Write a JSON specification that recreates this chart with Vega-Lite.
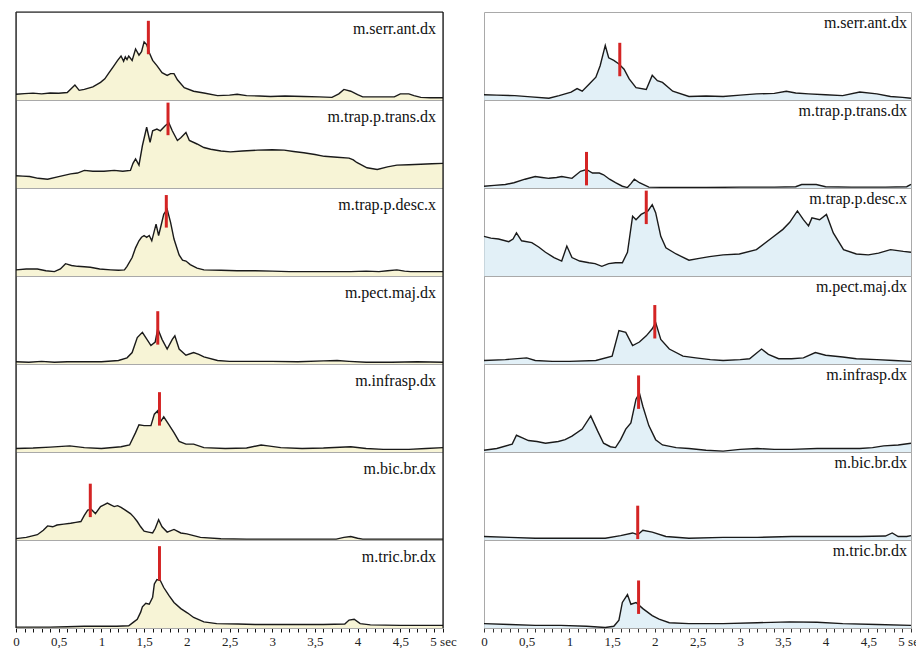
{
  "$schema": "https://vega.github.io/schema/vega-lite/v6.json",
  "background": "white",
  "padding": {"left": 12, "top": 10, "right": 0, "bottom": 24},
  "spacing": 23,
  "config": {
    "view": {"stroke": "#a9a9a9", "strokeWidth": 1},
    "font": "Liberation Serif"
  },
  "hconcat": [
    {
      "data": {"values": [
        {"p":1,"k":"mk","t":1.55,"lo":52,"hi":90},
        {"p":2,"k":"mk","t":1.78,"lo":60,"hi":97},
        {"p":3,"k":"mk","t":1.76,"lo":55,"hi":92},
        {"p":4,"k":"mk","t":1.66,"lo":22,"hi":60},
        {"p":5,"k":"mk","t":1.68,"lo":30,"hi":68},
        {"p":6,"k":"mk","t":0.87,"lo":26,"hi":64},
        {"p":7,"k":"mk","t":1.68,"lo":54,"hi":93},
        {"p":1,"k":"lb","t":5,"m":"m.serr.ant.dx"},
        {"p":2,"k":"lb","t":5,"m":"m.trap.p.trans.dx"},
        {"p":3,"k":"lb","t":5,"m":"m.trap.p.desc.x"},
        {"p":4,"k":"lb","t":5,"m":"m.pect.maj.dx"},
        {"p":5,"k":"lb","t":5,"m":"m.infrasp.dx"},
        {"p":6,"k":"lb","t":5,"m":"m.bic.br.dx"},
        {"p":7,"k":"lb","t":5,"m":"m.tric.br.dx"},
        {"p":1,"k":"ed","t":0},{"p":1,"k":"ed","t":5},{"p":2,"k":"ed","t":0},{"p":2,"k":"ed","t":5},{"p":3,"k":"ed","t":0},{"p":3,"k":"ed","t":5},{"p":4,"k":"ed","t":0},{"p":4,"k":"ed","t":5},{"p":5,"k":"ed","t":0},{"p":5,"k":"ed","t":5},{"p":6,"k":"ed","t":0},{"p":6,"k":"ed","t":5},{"p":7,"k":"ed","t":0},{"p":7,"k":"ed","t":5},
        {"p":1,"k":"tp","t":0,"t2":5},
        {"p":1,"t":0,"v":6.5},{"p":1,"t":0.1,"v":7.2},{"p":1,"t":0.2,"v":7.8},{"p":1,"t":0.3,"v":7},{"p":1,"t":0.4,"v":8},{"p":1,"t":0.5,"v":7.6},{"p":1,"t":0.6,"v":8.5},{"p":1,"t":0.69,"v":17},{"p":1,"t":0.74,"v":11},{"p":1,"t":0.8,"v":12},{"p":1,"t":0.9,"v":15},{"p":1,"t":0.99,"v":20},{"p":1,"t":1.04,"v":24},{"p":1,"t":1.09,"v":31},{"p":1,"t":1.14,"v":38},{"p":1,"t":1.19,"v":45},{"p":1,"t":1.23,"v":50},{"p":1,"t":1.26,"v":44},{"p":1,"t":1.28,"v":49},{"p":1,"t":1.3,"v":46},{"p":1,"t":1.32,"v":50},{"p":1,"t":1.36,"v":45},{"p":1,"t":1.4,"v":58},{"p":1,"t":1.44,"v":51},{"p":1,"t":1.47,"v":55},{"p":1,"t":1.5,"v":66},{"p":1,"t":1.53,"v":63},{"p":1,"t":1.56,"v":54},{"p":1,"t":1.6,"v":45},{"p":1,"t":1.65,"v":39},{"p":1,"t":1.71,"v":31},{"p":1,"t":1.77,"v":28},{"p":1,"t":1.81,"v":30},{"p":1,"t":1.85,"v":30},{"p":1,"t":1.89,"v":23},{"p":1,"t":1.97,"v":14},{"p":1,"t":2.08,"v":10},{"p":1,"t":2.2,"v":8},{"p":1,"t":2.36,"v":5},{"p":1,"t":2.5,"v":5.5},{"p":1,"t":2.59,"v":6.5},{"p":1,"t":2.7,"v":5},{"p":1,"t":2.85,"v":4.5},{"p":1,"t":2.98,"v":4},{"p":1,"t":3.15,"v":4.5},{"p":1,"t":3.37,"v":4},{"p":1,"t":3.55,"v":3.5},{"p":1,"t":3.7,"v":3},{"p":1,"t":3.78,"v":7},{"p":1,"t":3.84,"v":12},{"p":1,"t":3.92,"v":10},{"p":1,"t":4,"v":6},{"p":1,"t":4.06,"v":3.5},{"p":1,"t":4.25,"v":3.5},{"p":1,"t":4.43,"v":3.5},{"p":1,"t":4.5,"v":7},{"p":1,"t":4.6,"v":7},{"p":1,"t":4.66,"v":5},{"p":1,"t":4.74,"v":3},{"p":1,"t":4.85,"v":2.5},{"p":1,"t":5,"v":2.5},
        {"p":2,"t":0,"v":14},{"p":2,"t":0.08,"v":13.5},{"p":2,"t":0.16,"v":13},{"p":2,"t":0.26,"v":11},{"p":2,"t":0.37,"v":10},{"p":2,"t":0.5,"v":13},{"p":2,"t":0.64,"v":16},{"p":2,"t":0.72,"v":17},{"p":2,"t":0.8,"v":20},{"p":2,"t":0.9,"v":19},{"p":2,"t":1.03,"v":19},{"p":2,"t":1.15,"v":20},{"p":2,"t":1.25,"v":19},{"p":2,"t":1.34,"v":20},{"p":2,"t":1.37,"v":28},{"p":2,"t":1.4,"v":33},{"p":2,"t":1.44,"v":26},{"p":2,"t":1.48,"v":48},{"p":2,"t":1.53,"v":69},{"p":2,"t":1.57,"v":52},{"p":2,"t":1.6,"v":65},{"p":2,"t":1.65,"v":67},{"p":2,"t":1.69,"v":65},{"p":2,"t":1.75,"v":71},{"p":2,"t":1.79,"v":74},{"p":2,"t":1.83,"v":65},{"p":2,"t":1.89,"v":54},{"p":2,"t":1.93,"v":57},{"p":2,"t":1.99,"v":63},{"p":2,"t":2.03,"v":54},{"p":2,"t":2.12,"v":50},{"p":2,"t":2.2,"v":46},{"p":2,"t":2.28,"v":44},{"p":2,"t":2.4,"v":42},{"p":2,"t":2.51,"v":41},{"p":2,"t":2.65,"v":42},{"p":2,"t":2.83,"v":43},{"p":2,"t":3,"v":43.5},{"p":2,"t":3.14,"v":43},{"p":2,"t":3.25,"v":41.5},{"p":2,"t":3.37,"v":40},{"p":2,"t":3.5,"v":38},{"p":2,"t":3.61,"v":36},{"p":2,"t":3.76,"v":35},{"p":2,"t":3.9,"v":34},{"p":2,"t":3.95,"v":32},{"p":2,"t":3.99,"v":29},{"p":2,"t":4.05,"v":26},{"p":2,"t":4.11,"v":23},{"p":2,"t":4.23,"v":21},{"p":2,"t":4.35,"v":24},{"p":2,"t":4.46,"v":26},{"p":2,"t":4.6,"v":26.5},{"p":2,"t":4.74,"v":27},{"p":2,"t":4.87,"v":27.5},{"p":2,"t":5,"v":28},
        {"p":3,"t":0,"v":7},{"p":3,"t":0.12,"v":8},{"p":3,"t":0.25,"v":8},{"p":3,"t":0.35,"v":6},{"p":3,"t":0.45,"v":5},{"p":3,"t":0.52,"v":8},{"p":3,"t":0.58,"v":14},{"p":3,"t":0.65,"v":12},{"p":3,"t":0.72,"v":11},{"p":3,"t":0.8,"v":10.5},{"p":3,"t":0.87,"v":10},{"p":3,"t":0.98,"v":8},{"p":3,"t":1.11,"v":7},{"p":3,"t":1.2,"v":6.5},{"p":3,"t":1.27,"v":7},{"p":3,"t":1.3,"v":11},{"p":3,"t":1.36,"v":21},{"p":3,"t":1.4,"v":32},{"p":3,"t":1.44,"v":40},{"p":3,"t":1.47,"v":44},{"p":3,"t":1.5,"v":46},{"p":3,"t":1.53,"v":44},{"p":3,"t":1.56,"v":46},{"p":3,"t":1.59,"v":40},{"p":3,"t":1.64,"v":59},{"p":3,"t":1.67,"v":46},{"p":3,"t":1.7,"v":58},{"p":3,"t":1.73,"v":70},{"p":3,"t":1.77,"v":76},{"p":3,"t":1.81,"v":61},{"p":3,"t":1.85,"v":42},{"p":3,"t":1.91,"v":24},{"p":3,"t":1.95,"v":18},{"p":3,"t":1.99,"v":17},{"p":3,"t":2.04,"v":13},{"p":3,"t":2.12,"v":9},{"p":3,"t":2.2,"v":7},{"p":3,"t":2.4,"v":6.5},{"p":3,"t":2.59,"v":6},{"p":3,"t":2.8,"v":6},{"p":3,"t":3,"v":5.5},{"p":3,"t":3.2,"v":5},{"p":3,"t":3.37,"v":5},{"p":3,"t":3.6,"v":5},{"p":3,"t":3.92,"v":5},{"p":3,"t":4.1,"v":5.5},{"p":3,"t":4.25,"v":5},{"p":3,"t":4.35,"v":6},{"p":3,"t":4.46,"v":7},{"p":3,"t":4.55,"v":5.5},{"p":3,"t":4.62,"v":5},{"p":3,"t":4.8,"v":5},{"p":3,"t":5,"v":5},
        {"p":4,"t":0,"v":2.5},{"p":4,"t":0.15,"v":2},{"p":4,"t":0.3,"v":3},{"p":4,"t":0.45,"v":2},{"p":4,"t":0.6,"v":2.5},{"p":4,"t":0.8,"v":2.5},{"p":4,"t":1,"v":2.5},{"p":4,"t":1.2,"v":4},{"p":4,"t":1.3,"v":7},{"p":4,"t":1.36,"v":13},{"p":4,"t":1.42,"v":30},{"p":4,"t":1.48,"v":36},{"p":4,"t":1.52,"v":30},{"p":4,"t":1.58,"v":21},{"p":4,"t":1.63,"v":25},{"p":4,"t":1.66,"v":40},{"p":4,"t":1.71,"v":28},{"p":4,"t":1.77,"v":17},{"p":4,"t":1.83,"v":28},{"p":4,"t":1.86,"v":32},{"p":4,"t":1.91,"v":17},{"p":4,"t":1.99,"v":10},{"p":4,"t":2.08,"v":13},{"p":4,"t":2.14,"v":11},{"p":4,"t":2.2,"v":8},{"p":4,"t":2.36,"v":4},{"p":4,"t":2.5,"v":3},{"p":4,"t":2.7,"v":3},{"p":4,"t":3,"v":3},{"p":4,"t":3.3,"v":2.5},{"p":4,"t":3.6,"v":3.5},{"p":4,"t":3.76,"v":4},{"p":4,"t":3.9,"v":3},{"p":4,"t":4.1,"v":2},{"p":4,"t":4.4,"v":2},{"p":4,"t":4.7,"v":2.5},{"p":4,"t":5,"v":2},
        {"p":5,"t":0,"v":4},{"p":5,"t":0.2,"v":4.5},{"p":5,"t":0.4,"v":5.5},{"p":5,"t":0.63,"v":7},{"p":5,"t":0.8,"v":5},{"p":5,"t":1,"v":4},{"p":5,"t":1.23,"v":6},{"p":5,"t":1.33,"v":8},{"p":5,"t":1.4,"v":22},{"p":5,"t":1.44,"v":31},{"p":5,"t":1.5,"v":30},{"p":5,"t":1.58,"v":30},{"p":5,"t":1.62,"v":43},{"p":5,"t":1.66,"v":47},{"p":5,"t":1.69,"v":34},{"p":5,"t":1.73,"v":40},{"p":5,"t":1.79,"v":31},{"p":5,"t":1.85,"v":22},{"p":5,"t":1.91,"v":12},{"p":5,"t":1.99,"v":9},{"p":5,"t":2.08,"v":9},{"p":5,"t":2.2,"v":5},{"p":5,"t":2.45,"v":4},{"p":5,"t":2.7,"v":4.5},{"p":5,"t":2.87,"v":8},{"p":5,"t":2.95,"v":7},{"p":5,"t":3.1,"v":5},{"p":5,"t":3.35,"v":4},{"p":5,"t":3.6,"v":4.5},{"p":5,"t":3.92,"v":6},{"p":5,"t":4.1,"v":4},{"p":5,"t":4.3,"v":3},{"p":5,"t":4.6,"v":3},{"p":5,"t":4.8,"v":4},{"p":5,"t":5,"v":5},
        {"p":6,"t":0,"v":1.5},{"p":6,"t":0.12,"v":3},{"p":6,"t":0.25,"v":6},{"p":6,"t":0.32,"v":11},{"p":6,"t":0.37,"v":16},{"p":6,"t":0.43,"v":15},{"p":6,"t":0.48,"v":17},{"p":6,"t":0.56,"v":18},{"p":6,"t":0.64,"v":19},{"p":6,"t":0.7,"v":20},{"p":6,"t":0.76,"v":21},{"p":6,"t":0.8,"v":28},{"p":6,"t":0.84,"v":34},{"p":6,"t":0.88,"v":35},{"p":6,"t":0.93,"v":30},{"p":6,"t":0.99,"v":38},{"p":6,"t":1.03,"v":40},{"p":6,"t":1.07,"v":42},{"p":6,"t":1.11,"v":40},{"p":6,"t":1.15,"v":38},{"p":6,"t":1.19,"v":39},{"p":6,"t":1.23,"v":37},{"p":6,"t":1.28,"v":34},{"p":6,"t":1.34,"v":30},{"p":6,"t":1.38,"v":26},{"p":6,"t":1.42,"v":21},{"p":6,"t":1.46,"v":15},{"p":6,"t":1.5,"v":10},{"p":6,"t":1.55,"v":9},{"p":6,"t":1.6,"v":8},{"p":6,"t":1.63,"v":13},{"p":6,"t":1.67,"v":23},{"p":6,"t":1.71,"v":15},{"p":6,"t":1.77,"v":9},{"p":6,"t":1.85,"v":12},{"p":6,"t":1.93,"v":8},{"p":6,"t":2,"v":7},{"p":6,"t":2.08,"v":5},{"p":6,"t":2.16,"v":3},{"p":6,"t":2.4,"v":1.5},{"p":6,"t":2.7,"v":1},{"p":6,"t":3,"v":1},{"p":6,"t":3.4,"v":1},{"p":6,"t":3.75,"v":1},{"p":6,"t":3.84,"v":3},{"p":6,"t":3.92,"v":4},{"p":6,"t":4,"v":2},{"p":6,"t":4.06,"v":1},{"p":6,"t":4.4,"v":1},{"p":6,"t":5,"v":1},
        {"p":7,"t":0,"v":1},{"p":7,"t":0.2,"v":1},{"p":7,"t":0.4,"v":1},{"p":7,"t":0.6,"v":1.5},{"p":7,"t":0.8,"v":2},{"p":7,"t":1,"v":2},{"p":7,"t":1.18,"v":2},{"p":7,"t":1.32,"v":2.5},{"p":7,"t":1.38,"v":7},{"p":7,"t":1.42,"v":10},{"p":7,"t":1.46,"v":18},{"p":7,"t":1.48,"v":24},{"p":7,"t":1.52,"v":28},{"p":7,"t":1.56,"v":27},{"p":7,"t":1.6,"v":35},{"p":7,"t":1.62,"v":50},{"p":7,"t":1.65,"v":55},{"p":7,"t":1.69,"v":54},{"p":7,"t":1.73,"v":46},{"p":7,"t":1.79,"v":37},{"p":7,"t":1.85,"v":29},{"p":7,"t":1.93,"v":22},{"p":7,"t":2.01,"v":17},{"p":7,"t":2.08,"v":12},{"p":7,"t":2.2,"v":7},{"p":7,"t":2.35,"v":5},{"p":7,"t":2.6,"v":4.5},{"p":7,"t":2.8,"v":4},{"p":7,"t":3.2,"v":4},{"p":7,"t":3.6,"v":4},{"p":7,"t":3.85,"v":4.5},{"p":7,"t":3.9,"v":9},{"p":7,"t":3.96,"v":10},{"p":7,"t":4.03,"v":5},{"p":7,"t":4.15,"v":3.5},{"p":7,"t":4.5,"v":3},{"p":7,"t":5,"v":3}
      ]},
      "facet": {"row": {"field": "p", "type": "ordinal", "header": null}},
      "spacing": 0,
      "bounds": "flush",
      "spec": {
        "width": 427,
        "height": 88,
        "encoding": {
          "x": {"field": "t", "type": "quantitative", "scale": {"domain": [0, 5], "nice": false},
            "axis": {
              "title": null, "grid": false,
              "values": [0,0.1,0.2,0.3,0.4,0.5,0.6,0.7,0.8,0.9,1,1.1,1.2,1.3,1.4,1.5,1.6,1.7,1.8,1.9,2,2.1,2.2,2.3,2.4,2.5,2.6,2.7,2.8,2.9,3,3.1,3.2,3.3,3.4,3.5,3.6,3.7,3.8,3.9,4,4.1,4.2,4.3,4.4,4.5,4.6,4.7,4.8,4.9,5],
              "labelExpr": "datum.value == 5 ? '5 sec' : (abs(datum.value * 2 - round(datum.value * 2)) < 0.01 ? replace(format(datum.value, '~g'), '.', ',') : '')",
              "labelOverlap": false, "labelFlush": false, "labelBound": false,
              "tickSize": 4,
              "domainColor": "#111", "tickColor": "#111",
              "labelFont": "Liberation Serif", "labelFontSize": 13, "labelColor": "#222", "labelPadding": 3
            }}
        },
        "layer": [
          {
            "transform": [{"filter": {"field": "v", "valid": true}}],
            "mark": {"type": "area", "color": "#f4efc4", "line": {"color": "#1a1a1a", "strokeWidth": 1.4}},
            "encoding": {
              "y": {"field": "v", "type": "quantitative", "scale": {"domain": [0, 100], "nice": false}, "axis": null}
            }
          },
          {
            "transform": [{"filter": "datum.k == 'mk'"}],
            "mark": {"type": "rule", "color": "#d42424", "strokeWidth": 3},
            "encoding": {
              "y": {"field": "lo", "type": "quantitative", "axis": null},
              "y2": {"field": "hi"}
            }
          },
          {
            "transform": [{"filter": "datum.k == 'lb'"}],
            "mark": {"type": "text", "align": "right", "baseline": "alphabetic", "dx": -7, "dy": 22, "fontSize": 16, "font": "Liberation Serif", "color": "#111"},
            "encoding": {
              "y": {"datum": 100, "type": "quantitative", "axis": null},
              "text": {"field": "m"}
            }
          },
          {
            "transform": [{"filter": "datum.k == 'ed'"}],
            "mark": {"type": "rule", "color": "#111", "strokeWidth": 1.2},
            "encoding": {}
          },
          {
            "transform": [{"filter": "datum.k == 'tp'"}],
            "mark": {"type": "rule", "color": "#111", "strokeWidth": 1.2},
            "encoding": {
              "x2": {"field": "t2"},
              "y": {"datum": 100, "type": "quantitative", "axis": null}
            }
          }
        ]
      }
    },
    {
      "data": {"values": [
        {"p":1,"k":"mk","t":1.59,"lo":27,"hi":65},
        {"p":2,"k":"mk","t":1.2,"lo":3,"hi":41},
        {"p":3,"k":"mk","t":1.9,"lo":59,"hi":97},
        {"p":4,"k":"mk","t":2,"lo":29,"hi":67},
        {"p":5,"k":"mk","t":1.81,"lo":49,"hi":87},
        {"p":6,"k":"mk","t":1.8,"lo":1,"hi":39},
        {"p":7,"k":"mk","t":1.81,"lo":16,"hi":54},
        {"p":1,"k":"lb","t":5,"m":"m.serr.ant.dx"},
        {"p":2,"k":"lb","t":5,"m":"m.trap.p.trans.dx"},
        {"p":3,"k":"lb","t":5,"m":"m.trap.p.desc.x"},
        {"p":4,"k":"lb","t":5,"m":"m.pect.maj.dx"},
        {"p":5,"k":"lb","t":5,"m":"m.infrasp.dx"},
        {"p":6,"k":"lb","t":5,"m":"m.bic.br.dx"},
        {"p":7,"k":"lb","t":5,"m":"m.tric.br.dx"},
        {"p":1,"t":0,"v":6},{"p":1,"t":0.15,"v":5.5},{"p":1,"t":0.36,"v":5},{"p":1,"t":0.55,"v":3.5},{"p":1,"t":0.76,"v":2},{"p":1,"t":0.88,"v":5},{"p":1,"t":0.95,"v":7},{"p":1,"t":1.02,"v":9},{"p":1,"t":1.09,"v":13},{"p":1,"t":1.15,"v":10},{"p":1,"t":1.23,"v":18},{"p":1,"t":1.31,"v":26},{"p":1,"t":1.36,"v":39},{"p":1,"t":1.42,"v":62},{"p":1,"t":1.46,"v":48},{"p":1,"t":1.52,"v":45},{"p":1,"t":1.58,"v":41},{"p":1,"t":1.64,"v":35},{"p":1,"t":1.7,"v":24},{"p":1,"t":1.78,"v":14},{"p":1,"t":1.9,"v":12},{"p":1,"t":1.97,"v":28},{"p":1,"t":2.03,"v":22},{"p":1,"t":2.09,"v":20},{"p":1,"t":2.21,"v":10},{"p":1,"t":2.4,"v":4},{"p":1,"t":2.6,"v":4.5},{"p":1,"t":2.8,"v":4},{"p":1,"t":3,"v":5.5},{"p":1,"t":3.19,"v":7},{"p":1,"t":3.4,"v":7.5},{"p":1,"t":3.54,"v":10},{"p":1,"t":3.65,"v":8},{"p":1,"t":3.8,"v":7},{"p":1,"t":4,"v":6},{"p":1,"t":4.2,"v":5},{"p":1,"t":4.4,"v":9},{"p":1,"t":4.6,"v":7},{"p":1,"t":4.76,"v":4},{"p":1,"t":4.9,"v":3},{"p":1,"t":5,"v":2},
        {"p":2,"t":0,"v":2},{"p":2,"t":0.12,"v":3},{"p":2,"t":0.25,"v":4},{"p":2,"t":0.35,"v":6},{"p":2,"t":0.48,"v":10},{"p":2,"t":0.6,"v":13},{"p":2,"t":0.68,"v":12},{"p":2,"t":0.76,"v":11},{"p":2,"t":0.85,"v":12},{"p":2,"t":0.91,"v":13},{"p":2,"t":1.03,"v":11},{"p":2,"t":1.13,"v":19},{"p":2,"t":1.2,"v":21},{"p":2,"t":1.27,"v":17},{"p":2,"t":1.35,"v":17},{"p":2,"t":1.4,"v":15},{"p":2,"t":1.47,"v":10},{"p":2,"t":1.54,"v":6},{"p":2,"t":1.62,"v":2},{"p":2,"t":1.68,"v":0.5},{"p":2,"t":1.72,"v":5},{"p":2,"t":1.76,"v":10},{"p":2,"t":1.82,"v":6},{"p":2,"t":1.93,"v":1},{"p":2,"t":2.2,"v":0.5},{"p":2,"t":2.6,"v":0.5},{"p":2,"t":3,"v":1},{"p":2,"t":3.4,"v":1},{"p":2,"t":3.65,"v":1.5},{"p":2,"t":3.72,"v":4},{"p":2,"t":3.89,"v":4},{"p":2,"t":4,"v":1.5},{"p":2,"t":4.3,"v":1},{"p":2,"t":4.7,"v":1},{"p":2,"t":4.95,"v":1.5},{"p":2,"t":5,"v":4},
        {"p":3,"t":0,"v":45},{"p":3,"t":0.08,"v":43},{"p":3,"t":0.17,"v":42},{"p":3,"t":0.29,"v":39},{"p":3,"t":0.34,"v":42},{"p":3,"t":0.38,"v":49},{"p":3,"t":0.44,"v":40},{"p":3,"t":0.56,"v":38},{"p":3,"t":0.64,"v":33},{"p":3,"t":0.72,"v":27},{"p":3,"t":0.82,"v":21},{"p":3,"t":0.91,"v":17},{"p":3,"t":0.97,"v":34},{"p":3,"t":1.03,"v":21},{"p":3,"t":1.12,"v":17},{"p":3,"t":1.23,"v":15},{"p":3,"t":1.3,"v":14},{"p":3,"t":1.38,"v":11},{"p":3,"t":1.46,"v":14},{"p":3,"t":1.54,"v":15},{"p":3,"t":1.62,"v":15},{"p":3,"t":1.68,"v":27},{"p":3,"t":1.74,"v":68},{"p":3,"t":1.78,"v":64},{"p":3,"t":1.84,"v":70},{"p":3,"t":1.92,"v":74},{"p":3,"t":1.97,"v":81},{"p":3,"t":2.01,"v":72},{"p":3,"t":2.07,"v":45},{"p":3,"t":2.13,"v":32},{"p":3,"t":2.25,"v":25},{"p":3,"t":2.4,"v":18},{"p":3,"t":2.52,"v":20},{"p":3,"t":2.64,"v":22},{"p":3,"t":2.8,"v":24},{"p":3,"t":2.99,"v":25},{"p":3,"t":3.19,"v":30},{"p":3,"t":3.38,"v":44},{"p":3,"t":3.5,"v":53},{"p":3,"t":3.58,"v":61},{"p":3,"t":3.67,"v":74},{"p":3,"t":3.74,"v":64},{"p":3,"t":3.8,"v":57},{"p":3,"t":3.84,"v":66},{"p":3,"t":3.93,"v":64},{"p":3,"t":4.01,"v":70},{"p":3,"t":4.09,"v":49},{"p":3,"t":4.21,"v":30},{"p":3,"t":4.36,"v":25},{"p":3,"t":4.5,"v":24},{"p":3,"t":4.62,"v":26},{"p":3,"t":4.76,"v":30},{"p":3,"t":4.91,"v":28},{"p":3,"t":5,"v":27},
        {"p":4,"t":0,"v":4},{"p":4,"t":0.25,"v":5},{"p":4,"t":0.5,"v":7},{"p":4,"t":0.6,"v":4},{"p":4,"t":0.8,"v":3},{"p":4,"t":1,"v":3},{"p":4,"t":1.31,"v":4},{"p":4,"t":1.5,"v":9},{"p":4,"t":1.58,"v":38},{"p":4,"t":1.66,"v":36},{"p":4,"t":1.74,"v":21},{"p":4,"t":1.82,"v":25},{"p":4,"t":1.9,"v":32},{"p":4,"t":1.97,"v":40},{"p":4,"t":2.01,"v":47},{"p":4,"t":2.07,"v":28},{"p":4,"t":2.17,"v":17},{"p":4,"t":2.33,"v":9},{"p":4,"t":2.48,"v":7},{"p":4,"t":2.65,"v":5},{"p":4,"t":2.8,"v":4},{"p":4,"t":3,"v":5},{"p":4,"t":3.11,"v":6},{"p":4,"t":3.25,"v":17},{"p":4,"t":3.33,"v":11},{"p":4,"t":3.45,"v":6},{"p":4,"t":3.6,"v":6},{"p":4,"t":3.74,"v":7},{"p":4,"t":3.88,"v":13},{"p":4,"t":4,"v":10},{"p":4,"t":4.2,"v":8},{"p":4,"t":4.36,"v":6},{"p":4,"t":4.6,"v":5},{"p":4,"t":4.8,"v":4},{"p":4,"t":5,"v":3},
        {"p":5,"t":0,"v":2},{"p":5,"t":0.15,"v":4},{"p":5,"t":0.33,"v":9},{"p":5,"t":0.38,"v":19},{"p":5,"t":0.45,"v":16},{"p":5,"t":0.52,"v":13},{"p":5,"t":0.62,"v":12},{"p":5,"t":0.72,"v":10},{"p":5,"t":0.87,"v":12},{"p":5,"t":0.95,"v":14},{"p":5,"t":1.03,"v":18},{"p":5,"t":1.15,"v":26},{"p":5,"t":1.25,"v":41},{"p":5,"t":1.33,"v":24},{"p":5,"t":1.4,"v":10},{"p":5,"t":1.48,"v":6},{"p":5,"t":1.54,"v":5},{"p":5,"t":1.6,"v":14},{"p":5,"t":1.66,"v":26},{"p":5,"t":1.72,"v":33},{"p":5,"t":1.78,"v":60},{"p":5,"t":1.82,"v":67},{"p":5,"t":1.86,"v":52},{"p":5,"t":1.93,"v":30},{"p":5,"t":2.01,"v":14},{"p":5,"t":2.09,"v":8},{"p":5,"t":2.25,"v":5},{"p":5,"t":2.4,"v":4},{"p":5,"t":2.6,"v":2},{"p":5,"t":2.8,"v":1},{"p":5,"t":3,"v":3},{"p":5,"t":3.2,"v":4},{"p":5,"t":3.4,"v":3},{"p":5,"t":3.6,"v":3},{"p":5,"t":3.9,"v":4},{"p":5,"t":4.2,"v":4},{"p":5,"t":4.4,"v":4},{"p":5,"t":4.55,"v":5},{"p":5,"t":4.68,"v":7},{"p":5,"t":4.85,"v":8},{"p":5,"t":5,"v":10},
        {"p":6,"t":0,"v":4},{"p":6,"t":0.3,"v":3},{"p":6,"t":0.6,"v":2},{"p":6,"t":0.9,"v":2},{"p":6,"t":1.2,"v":2},{"p":6,"t":1.42,"v":2},{"p":6,"t":1.6,"v":5},{"p":6,"t":1.74,"v":8},{"p":6,"t":1.8,"v":6},{"p":6,"t":1.86,"v":11},{"p":6,"t":1.97,"v":9},{"p":6,"t":2.13,"v":4},{"p":6,"t":2.4,"v":2},{"p":6,"t":2.8,"v":3},{"p":6,"t":3.2,"v":3},{"p":6,"t":3.6,"v":4},{"p":6,"t":4,"v":4},{"p":6,"t":4.4,"v":4},{"p":6,"t":4.7,"v":4.5},{"p":6,"t":4.78,"v":8},{"p":6,"t":4.85,"v":4},{"p":6,"t":4.95,"v":4},{"p":6,"t":5,"v":5},
        {"p":7,"t":0,"v":5},{"p":7,"t":0.3,"v":4},{"p":7,"t":0.6,"v":3},{"p":7,"t":0.9,"v":3},{"p":7,"t":1.2,"v":2},{"p":7,"t":1.42,"v":0.5},{"p":7,"t":1.52,"v":2},{"p":7,"t":1.58,"v":9},{"p":7,"t":1.62,"v":29},{"p":7,"t":1.68,"v":38},{"p":7,"t":1.72,"v":27},{"p":7,"t":1.78,"v":29},{"p":7,"t":1.86,"v":22},{"p":7,"t":1.97,"v":14},{"p":7,"t":2.05,"v":10},{"p":7,"t":2.17,"v":6},{"p":7,"t":2.4,"v":5},{"p":7,"t":2.8,"v":5},{"p":7,"t":3.2,"v":6},{"p":7,"t":3.58,"v":7},{"p":7,"t":3.9,"v":6.5},{"p":7,"t":4.2,"v":5},{"p":7,"t":4.6,"v":4},{"p":7,"t":5,"v":3}
      ]},
      "facet": {"row": {"field": "p", "type": "ordinal", "header": null}},
      "spacing": 0,
      "bounds": "flush",
      "spec": {
        "width": 427,
        "height": 88,
        "encoding": {
          "x": {"field": "t", "type": "quantitative", "scale": {"domain": [0, 5], "nice": false},
            "axis": {
              "title": null, "grid": false,
              "values": [0,0.1,0.2,0.3,0.4,0.5,0.6,0.7,0.8,0.9,1,1.1,1.2,1.3,1.4,1.5,1.6,1.7,1.8,1.9,2,2.1,2.2,2.3,2.4,2.5,2.6,2.7,2.8,2.9,3,3.1,3.2,3.3,3.4,3.5,3.6,3.7,3.8,3.9,4,4.1,4.2,4.3,4.4,4.5,4.6,4.7,4.8,4.9,5],
              "labelExpr": "datum.value == 5 ? '5 sec' : (abs(datum.value * 2 - round(datum.value * 2)) < 0.01 ? replace(format(datum.value, '~g'), '.', ',') : '')",
              "labelOverlap": false, "labelFlush": false, "labelBound": false,
              "tickSize": 4,
              "domainColor": "#333", "tickColor": "#333",
              "labelFont": "Liberation Serif", "labelFontSize": 13, "labelColor": "#222", "labelPadding": 3
            }}
        },
        "layer": [
          {
            "transform": [{"filter": {"field": "v", "valid": true}}],
            "mark": {"type": "area", "color": "#d6eaf4", "line": {"color": "#1a1a1a", "strokeWidth": 1.4}},
            "encoding": {
              "y": {"field": "v", "type": "quantitative", "scale": {"domain": [0, 100], "nice": false}, "axis": null}
            }
          },
          {
            "transform": [{"filter": "datum.k == 'mk'"}],
            "mark": {"type": "rule", "color": "#d42424", "strokeWidth": 3},
            "encoding": {
              "y": {"field": "lo", "type": "quantitative", "axis": null},
              "y2": {"field": "hi"}
            }
          },
          {
            "transform": [{"filter": "datum.k == 'lb'"}],
            "mark": {"type": "text", "align": "right", "baseline": "alphabetic", "dx": -4, "dy": 15.5, "fontSize": 16, "font": "Liberation Serif", "color": "#111"},
            "encoding": {
              "y": {"datum": 100, "type": "quantitative", "axis": null},
              "text": {"field": "m"}
            }
          }
        ]
      }
    }
  ]
}
